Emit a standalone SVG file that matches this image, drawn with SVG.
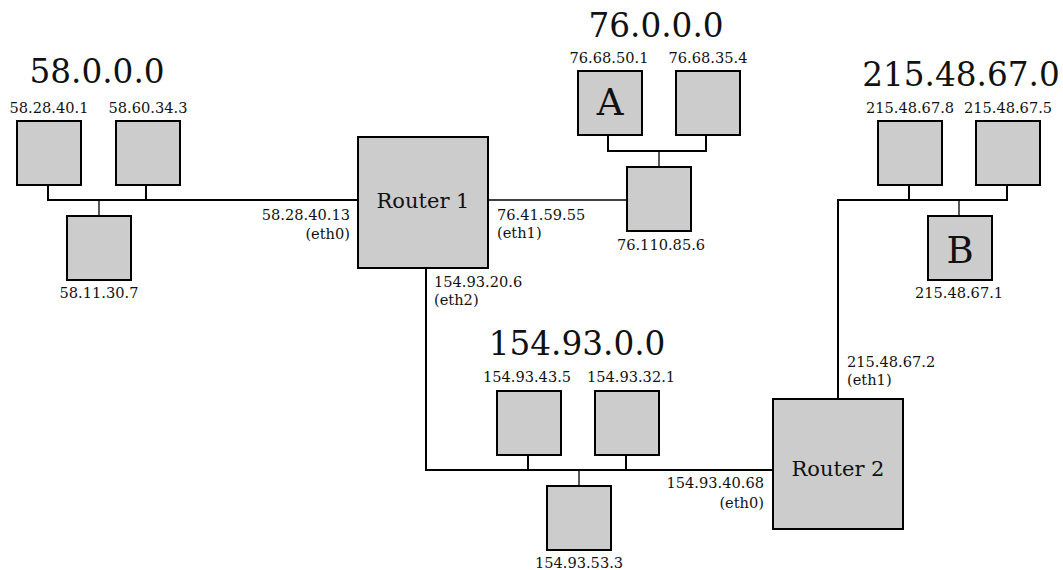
<svg xmlns="http://www.w3.org/2000/svg" width="1063" height="570" viewBox="0 0 1063 570">
<style>
.box{fill:#cccccc;stroke:#000;stroke-width:2}
.w{fill:none;stroke:#000;stroke-width:2}
.t{fill:none;stroke:#000;stroke-width:1.3}
text{font-family:"DejaVu Serif",serif;fill:#111}
.s{font-size:14.6px}
.big{font-size:32.7px}
.r{font-size:21px}
.l{font-size:37px}
.m{text-anchor:middle}
.e{text-anchor:end}
</style>
<rect width="1063" height="570" fill="#fff"/>
<g id="connectors">
<polyline class="w" points="48,185 48,200 358,200"/>
<line class="w" x1="146" y1="185" x2="146" y2="200"/>
<line class="t" x1="99" y1="200" x2="99" y2="216"/>
<line class="t" x1="488" y1="200" x2="627" y2="200"/>
<polyline class="w" points="608,135 608,151 706,151 706,135"/>
<line class="t" x1="659" y1="151" x2="659" y2="167"/>
<polyline class="w" points="838,399 838,200 1007,200 1007,185"/>
<line class="w" x1="909" y1="185" x2="909" y2="200"/>
<line class="t" x1="959" y1="200" x2="959" y2="216"/>
<polyline class="w" points="426,268 426,470 773,470"/>
<line class="w" x1="528" y1="455" x2="528" y2="470"/>
<line class="w" x1="626" y1="455" x2="626" y2="470"/>
<line class="t" x1="579" y1="470" x2="579" y2="486"/>
</g>
<g id="net58">
<text class="big" x="97" y="83" text-anchor="middle">58.0.0.0</text>
</g>
<g id="h58-28-40-1"><rect class="box" x="17" y="121" width="64" height="64"/><text class="s m" x="49" y="113">58.28.40.1</text></g>
<g id="h58-60-34-3"><rect class="box" x="116" y="121" width="64" height="64"/><text class="s m" x="148" y="113">58.60.34.3</text></g>
<g id="h58-11-30-7"><rect class="box" x="67" y="216" width="64" height="64"/><text class="s m" x="99" y="298">58.11.30.7</text></g>
<g id="router1">
<rect class="box" x="358" y="137" width="130" height="131"/>
<text class="r m" x="423" y="208">Router 1</text>
<text class="s e" x="350" y="220">58.28.40.13</text>
<text class="s e" x="350" y="239">(eth0)</text>
<text class="s" x="497" y="220">76.41.59.55</text>
<text class="s" x="497" y="238">(eth1)</text>
<text class="s" x="434" y="287">154.93.20.6</text>
<text class="s" x="434" y="305">(eth2)</text>
</g>
<g id="net76"><text class="big m" x="656" y="37">76.0.0.0</text></g>
<g id="hA"><rect class="box" x="578" y="71" width="64" height="64"/><text class="l m" x="610" y="115">A</text><text class="s m" x="609" y="63">76.68.50.1</text></g>
<g id="h76-68-35-4"><rect class="box" x="676" y="71" width="64" height="64"/><text class="s m" x="708" y="63">76.68.35.4</text></g>
<g id="h76-110-85-6"><rect class="box" x="627" y="167" width="64" height="64"/><text class="s m" x="661" y="250">76.110.85.6</text></g>
<g id="net215"><text class="big m" x="961" y="86">215.48.67.0</text></g>
<g id="h215-48-67-8"><rect class="box" x="878" y="121" width="64" height="64"/><text class="s m" x="910" y="113">215.48.67.8</text></g>
<g id="h215-48-67-5"><rect class="box" x="976" y="121" width="64" height="64"/><text class="s m" x="1008" y="113">215.48.67.5</text></g>
<g id="hB"><rect class="box" x="928" y="216" width="64" height="64"/><text class="l m" x="960" y="263">B</text><text class="s m" x="959" y="298">215.48.67.1</text></g>
<g id="net154"><text class="big m" x="577" y="355">154.93.0.0</text></g>
<g id="h154-93-43-5"><rect class="box" x="497" y="391" width="64" height="64"/><text class="s m" x="527" y="382">154.93.43.5</text></g>
<g id="h154-93-32-1"><rect class="box" x="595" y="391" width="64" height="64"/><text class="s m" x="631" y="382">154.93.32.1</text></g>
<g id="h154-93-53-3"><rect class="box" x="547" y="486" width="64" height="64"/><text class="s m" x="579" y="568">154.93.53.3</text></g>
<g id="router2">
<rect class="box" x="773" y="399" width="130" height="130"/>
<text class="r m" x="838" y="476">Router 2</text>
<text class="s e" x="764" y="488">154.93.40.68</text>
<text class="s e" x="764" y="508">(eth0)</text>
<text class="s" x="847" y="367">215.48.67.2</text>
<text class="s" x="847" y="385">(eth1)</text>
</g>
</svg>
